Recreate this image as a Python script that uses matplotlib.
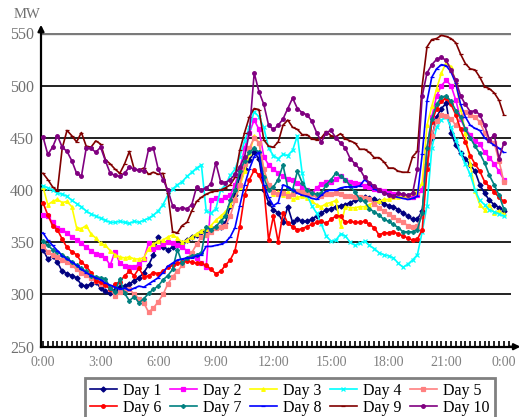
import numpy as np
import matplotlib.pyplot as plt
from matplotlib.ticker import MultipleLocator, FixedLocator

plt.rcParams['font.family'] = ['Liberation Serif', 'DejaVu Serif']

# 15-minute samples, 0:00 .. 24:00
hours = np.arange(97) * 0.25

day1 = [343, 334, 337, 331, 322, 320, 318, 316, 309, 308, 310, 312, 306,
        303, 301, 304, 307, 308, 310, 313, 316, 321, 328, 338, 355,
        345, 343, 345, 347, 349, 352, 355, 357, 360, 361, 363, 365,
        365, 368, 385, 395, 413, 420, 429, 436, 430, 400, 388, 381,
        378, 369, 384, 369, 372, 370, 370, 372, 375, 378, 381, 382,
        384, 385, 386, 388, 390, 391, 393, 392, 391, 389, 387, 385,
        384, 381, 378, 375, 372, 372, 380, 425, 450, 470, 478, 483,
        455, 443, 435, 430, 424, 418, 405, 397, 390, 386, 383, 380]
day2 = [376, 375, 369, 364, 362, 359, 355, 352, 349, 345, 342, 339, 338,
        335, 328, 341, 330, 327, 326, 326, 329, 334, 349, 344, 345,
        348, 350, 349, 347, 345, 342, 338, 335, 330, 326, 390, 392,
        390, 393, 395, 405, 420, 440, 455, 467, 458, 432, 424, 420,
        416, 413, 411, 410, 407, 403, 400, 397, 402, 406, 408, 408,
        411, 413, 410, 408, 407, 406, 404, 403, 401, 400, 399, 397,
        396, 395, 394, 393, 393, 395, 400, 440, 470, 490, 500, 505,
        500, 486, 468, 458, 453, 447, 444, 436, 431, 425, 418, 410]
day3 = [403, 386, 389, 391, 388, 389, 384, 364, 363, 366, 358, 354, 349,
        347, 342, 338, 336, 335, 336, 334, 334, 335, 344, 348, 351,
        352, 355, 357, 354, 350, 352, 355, 358, 361, 363, 366, 371,
        375, 379, 386, 392, 403, 418, 435, 452, 445, 420, 404, 396,
        398, 395, 398, 391, 393, 394, 392, 389, 386, 384, 387, 388,
        390, 366, 384, 383, 383, 384, 384, 386, 388, 389, 391, 391,
        393, 393, 394, 394, 397, 398, 407, 462, 480, 497, 512, 522,
        518, 503, 478, 455, 425, 399, 386, 381, 386, 378, 380, 377]
day4 = [404, 402, 400, 397, 396, 394, 390, 387, 384, 380, 377, 375, 373,
        371, 369, 369, 370, 369, 368, 370, 369, 371, 373, 376, 380,
        386, 395, 401, 405, 408, 413, 417, 421, 424, 380, 378, 382,
        400, 405, 414, 420, 432, 447, 460, 475, 470, 460, 440, 433,
        430, 434, 433, 438, 452, 416, 395, 385, 378, 367, 356, 351,
        352, 358, 356, 350, 347, 349, 351, 347, 344, 340, 338, 337,
        335, 330, 326, 329, 333, 338, 360, 385, 440, 460, 467, 470,
        460, 448, 435, 425, 415, 400, 390, 386, 381, 379, 377, 375]
day5 = [346, 341, 338, 336, 333, 331, 328, 324, 321, 319, 316, 313, 310,
        310, 305, 299, 302, 304, 305, 300, 296, 292, 283, 287, 293,
        300, 310, 317, 322, 328, 334, 340, 348, 355, 357, 360, 364,
        365, 366, 375, 390, 405, 425, 440, 450, 445, 420, 405, 398,
        396, 397, 394, 396, 399, 398, 397, 396, 395, 394, 396, 396,
        397, 396, 394, 394, 393, 393, 392, 391, 387, 383, 380, 377,
        374, 371, 369, 366, 365, 366, 375, 420, 452, 466, 472, 471,
        468, 462, 470, 475, 472, 470, 465, 455, 448, 445, 428, 408]
day6 = [388, 376, 366, 362, 353, 345, 341, 338, 331, 327, 321, 313, 312,
        309, 305, 310, 312, 318, 322, 318, 325, 317, 318, 321, 320,
        322, 326, 328, 330, 331, 332, 331, 330, 330, 328, 324, 320,
        322, 328, 333, 342, 365, 395, 410, 419, 414, 403, 352, 375,
        350, 378, 368, 365, 362, 363, 365, 367, 369, 370, 368, 372,
        375, 375, 369, 370, 369, 369, 370, 367, 364, 357, 359, 359,
        360, 358, 356, 354, 352, 353, 362, 420, 465, 478, 485, 488,
        482, 472, 458, 446, 433, 425, 418, 408, 403, 398, 393, 389]
day7 = [351, 347, 343, 341, 338, 335, 331, 328, 325, 322, 318, 317, 316,
        315, 306, 302, 315, 301, 294, 298, 292, 296, 301, 305, 308,
        314, 318, 324, 343, 330, 335, 337, 338, 340, 365, 362, 365,
        370, 375, 390, 400, 418, 428, 436, 440, 436, 412, 400, 403,
        410, 424, 402, 400, 418, 407, 400, 397, 396, 397, 405, 410,
        416, 413, 410, 404, 398, 391, 389, 382, 379, 376, 372, 370,
        367, 364, 360, 360, 360, 362, 378, 440, 468, 482, 489, 490,
        485, 476, 470, 458, 450, 442, 435, 426, 414, 405, 395, 382]
day8 = [359, 352, 347, 342, 337, 334, 331, 328, 324, 321, 318, 316, 314,
        311, 309, 307, 305, 306, 304, 306, 308, 307, 310, 313, 316,
        321, 327, 330, 333, 334, 335, 335, 337, 338, 346, 346, 347,
        348, 350, 355, 364, 385, 405, 420, 432, 436, 405, 393, 385,
        388, 405, 403, 400, 397, 395, 394, 392, 391, 395, 399, 400,
        400, 402, 403, 403, 403, 404, 410, 406, 401, 399, 397, 396,
        394, 393, 392, 391, 392, 394, 434, 485, 508, 516, 520, 519,
        513, 502, 482, 470, 462, 459, 457, 450, 446, 443, 440, 436]
day9 = [416, 410, 403, 399, 440, 457, 452, 446, 455, 442, 441, 447, 444,
        429, 425, 420, 416, 425, 437, 420, 419, 421, 415, 417, 415,
        416, 397, 360, 359, 366, 369, 380, 389, 393, 396, 398, 399,
        400, 402, 405, 412, 438, 455, 470, 478, 477, 448, 442, 441,
        446, 462, 467, 460, 458, 453, 453, 449, 448, 450, 456, 452,
        451, 454, 449, 447, 445, 439, 439, 436, 431, 431, 427, 421,
        421, 418, 417, 417, 432, 437, 500, 537, 544, 545, 548, 547,
        545, 541, 530, 521, 516, 515, 508, 499, 497, 493, 486, 472]
day10 = [451, 434, 441, 452, 441, 437, 428, 416, 413, 440, 440, 436, 441,
         428, 416, 414, 413, 416, 422, 420, 419, 418, 439, 440, 420,
         410, 400, 385, 382, 383, 382, 386, 403, 400, 402, 406, 426,
         408, 407, 410, 415, 422, 432, 455, 512, 494, 482, 462, 458,
         462, 468, 478, 488, 478, 474, 472, 466, 455, 446, 455, 457,
         450, 445, 440, 430, 425, 420, 412, 407, 404, 400, 397, 395,
         394, 397, 396, 395, 397, 420, 490, 512, 520, 525, 527, 524,
         515, 505, 490, 482, 475, 476, 472, 462, 448, 453, 430, 445]

series = [day1, day2, day3, day4, day5, day6, day7, day8, day9, day10]
labels = ['Day 1', 'Day 2', 'Day 3', 'Day 4', 'Day 5',
          'Day 6', 'Day 7', 'Day 8', 'Day 9', 'Day 10']
colors = ['#000080', '#ff00ff', '#ffff00', '#00ffff', '#ff8080',
          '#ff0000', '#008080', '#0000ff', '#800000', '#800080']
markers = ['D', 's', '^', 'x', 's', 'o', 'P', '_', '_', 'o']
tick_text = ['0:00', '3:00', '6:00', '9:00', '12:00', '15:00', '18:00', '21:00', '0:00']

fig = plt.figure(figsize=(5.26, 4.17), dpi=100)
ax = fig.add_axes([41 / 526, 1 - 346.7 / 417, 470 / 526, 313.4 / 417])

# horizontal grid lines
for v in [300, 350, 400, 450, 500, 550]:
    if v == 550:
        ax.axhline(v, color='#7a7a7a', lw=2.4, zorder=1)
    else:
        ax.axhline(v, color='#222222', lw=1.4, zorder=1)

for vals, lab, c, m in zip(series, labels, colors, markers):
    ax.plot(hours, vals, color=c, lw=1.2, marker=m, markersize=2.6,
            markeredgewidth=0.9, label=lab, zorder=3)

ax.set_xlim(-0.104, 24.375)
ax.set_ylim(250, 550)

ax.xaxis.set_major_locator(FixedLocator(np.arange(0, 25, 3)))
ax.xaxis.set_minor_locator(MultipleLocator(0.25))
ax.set_xticklabels(tick_text)
ax.tick_params(axis='x', which='both', direction='in', length=4, width=1.2,
               color='black', labelsize=10, labelcolor='#808080', pad=7)
ax.set_yticks([250, 300, 350, 400, 450, 500, 550])
ax.tick_params(axis='y', length=0, labelsize=11.5, labelcolor='#707070', pad=5)

for s in ['top', 'right']:
    ax.spines[s].set_visible(False)
ax.spines['left'].set_linewidth(1.6)
ax.spines['bottom'].set_linewidth(1.6)

# axis arrows
ax.annotate('', xy=(0, 1.036), xycoords='axes fraction', xytext=(0, 0.99),
            arrowprops=dict(arrowstyle='-|>', color='black', lw=1.6,
                            mutation_scale=9), annotation_clip=False)
ax.annotate('', xy=(1.026, 0), xycoords='axes fraction', xytext=(0.99, 0),
            arrowprops=dict(arrowstyle='-|>', color='black', lw=1.6,
                            mutation_scale=9), annotation_clip=False)

fig.text(27 / 526, 1 - 15 / 417, 'MW', fontsize=10.5, color='#707070',
         ha='center', va='center')

handles, labs = ax.get_legend_handles_labels()
order = [0, 5, 1, 6, 2, 7, 3, 8, 4, 9]
leg = fig.legend([handles[i] for i in order], [labs[i] for i in order],
                 loc='upper left', bbox_to_anchor=(85 / 526, 1 - 378 / 417),
                 ncol=5, fontsize=11.5, handlelength=1.7, handletextpad=0.4,
                 columnspacing=0.5, borderpad=0.3, labelspacing=0.05,
                 fancybox=False, borderaxespad=0)
leg.get_frame().set_edgecolor('#606060')
leg.get_frame().set_linewidth(2)

fig.savefig('out.png', dpi=100)
